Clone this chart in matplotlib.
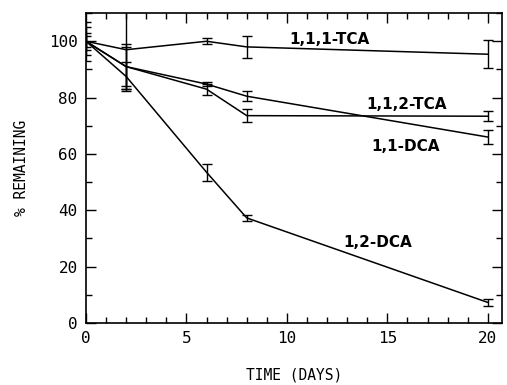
import matplotlib
matplotlib.use("Agg")
import matplotlib.pyplot as plt
from matplotlib.ticker import MultipleLocator

# sampling days
days = [0, 2, 6, 8, 20]

# % remaining and error bar half-widths
tca111 = [100, 97, 100, 98, 95.4]
tca111_err = [7, 14, 1, 4, 5]
tca112 = [100, 91, 83, 73.6, 73.4]
tca112_err = [5, 8, 1.9, 2.3, 1.8]
dca11 = [100, 91, 84.8, 80.5, 66]
dca11_err = [3, 7, 0.6, 1.7, 2.5]
dca12 = [100, 87.5, 53.5, 37.3, 7.3]
dca12_err = [2, 5, 3, 1, 1.4]

labels = ["1,1,1-TCA", "1,1,2-TCA", "1,1-DCA", "1,2-DCA"]
label_x = [12.1, 15.95, 15.9, 14.5]
label_y = [100.7, 77.6, 62.7, 28.6]

mono = "DejaVu Sans Mono"

fig = plt.figure(figsize=(5.07, 3.85), dpi=100)
ax = fig.add_axes([0.1696, 0.161, 0.8204, 0.805])

series = [(tca111, tca111_err), (tca112, tca112_err), (dca11, dca11_err), (dca12, dca12_err)]
for vals, errs in series:
    ax.errorbar(days, vals, yerr=errs, color="black", lw=1.1, elinewidth=1.0,
                capsize=3.5, capthick=1.0, clip_on=True)

for lab, lx, ly in zip(labels, label_x, label_y):
    ax.text(lx, ly, lab, ha="center", va="center", fontsize=11, fontweight="bold",
            family="DejaVu Sans")

ax.set_xlim(0, 20.7)
ax.set_ylim(0, 110)
ax.xaxis.set_major_locator(MultipleLocator(5))
ax.xaxis.set_minor_locator(MultipleLocator(1))
ax.yaxis.set_major_locator(MultipleLocator(20))
ax.yaxis.set_minor_locator(MultipleLocator(10))
ax.tick_params(which="both", direction="in", top=True, right=True, width=1.0)
ax.tick_params(which="major", length=7, pad=6)
ax.tick_params(which="minor", length=4)
for spine in ax.spines.values():
    spine.set_linewidth(1.2)

for t in ax.get_xticklabels() + ax.get_yticklabels():
    t.set_family(mono)
    t.set_fontsize(11.5)

ax.set_xlabel("TIME (DAYS)", family=mono, fontsize=10.5, labelpad=15)
ax.set_ylabel("% REMAINING", family=mono, fontsize=10.5, labelpad=14)

fig.savefig("out.png", dpi=100)
